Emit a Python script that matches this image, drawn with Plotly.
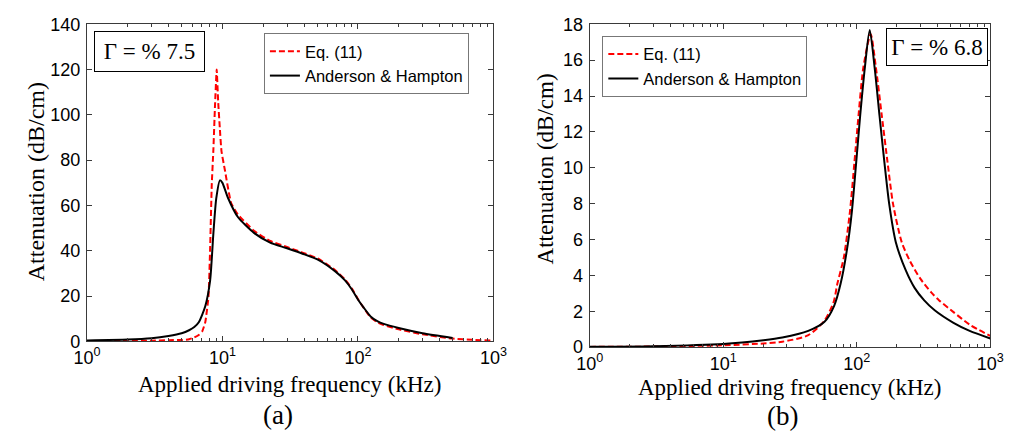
import plotly.graph_objects as go

# ---------------- data ----------------
# Panel (a)
a_red_f = [1, 2, 3, 4, 5, 5.67, 6.2, 6.69, 7.1, 7.47, 7.89, 8.11, 8.34, 8.58, 8.8, 9.07, 9.3, 9.57,
           9.84, 10.4, 11.6, 13, 17.1, 22.5, 29.6, 39, 51.4, 67.7, 80, 90, 100, 110, 124, 140, 155,
           200, 300, 500, 700, 1000]
a_red_v = [0.2, 0.2, 0.3, 0.5, 0.6, 0.9, 1.7, 2.8, 4.5, 8.4, 19.7, 40.8, 69, 85, 103, 120, 106, 94,
           84, 76, 61, 56, 48.8, 44.3, 41.8, 39.2, 36.4, 31.5, 27.4, 23.4, 18.7, 14.9, 10.6, 8.3, 7.2,
           5.3, 3.1, 1.2, 0.7, 0.3]
a_blk_f = [1, 2, 3, 4, 5, 5.67, 6.2, 6.69, 7.47, 8.11, 8.58, 9.0, 9.58, 10, 11, 13, 17.1, 22.5,
           29.6, 39, 51.4, 67.7, 80, 90, 100, 110, 124, 140, 155, 200, 300, 500]
a_blk_v = [0.4, 0.8, 1.4, 2.4, 3.6, 4.9, 6.3, 8.4, 15.5, 26.8, 47.9, 63, 71.1, 70, 63.3, 54.9, 47.9,
           43.6, 41.2, 38.7, 35.9, 31.0, 27.0, 23.0, 18.5, 15.0, 11.0, 8.8, 7.7, 5.9, 3.6, 1.5]

# Panel (b)
b_red_f = [1, 3, 10, 20, 27.7, 43, 57, 67, 71.6, 80, 89, 96, 103, 112, 127, 139, 154, 170, 187,
           217, 250, 300, 361, 414, 530, 700, 1000]
b_red_v = [0.01, 0.03, 0.1, 0.2, 0.3, 0.65, 1.45, 2.5, 3.54, 5.0, 7.6, 10.3, 12.9, 15.6, 17.45,
           15.6, 12.9, 10.3, 7.97, 5.85, 4.8, 3.8, 3.05, 2.6, 1.95, 1.25, 0.62]
b_blk_f = [1, 3, 10, 20, 27.7, 43.3, 57.3, 67.7, 75.7, 84.7, 92, 99, 106, 115, 125, 136, 148, 161,
           175, 196, 232, 271, 320, 383, 530, 700, 1000]
b_blk_v = [0.02, 0.05, 0.17, 0.38, 0.53, 0.9, 1.41, 2.3, 3.54, 5.5, 7.6, 10.3, 12.9, 15.6, 17.68,
           15.6, 12.9, 10.3, 7.97, 5.85, 4.3, 3.3, 2.6, 2.05, 1.35, 0.9, 0.48]

series_names = ["Eq. (11)", "Anderson & Hampton"]
x_tickvals = [1, 10, 100, 1000]
x_ticktext = ["10<sup>0</sup>", "10<sup>1</sup>", "10<sup>2</sup>", "10<sup>3</sup>"]
minor_vals = [m * 10 ** e for e in range(3) for m in range(2, 10)]
gamma_texts = ["Γ = % 7.5", "Γ = % 6.8"]
panel_labels = ["(a)", "(b)"]
x_title = "Applied driving frequency (kHz)"
y_title = "Attenuation (dB/cm)"

# ---------------- figure ----------------
W, H = 1016, 443
SANS = "Liberation Sans, Arial, sans-serif"
SERIF = "Liberation Serif, Times New Roman, serif"
AX = "#3a3a3a"

def px_x(p):
    return p / W

def px_y(p):
    return 1 - p / H

fig = go.Figure()

red_line = dict(color="#ff0000", width=2, dash="6px,3px")
blk_line = dict(color="#000000", width=2)

fig.add_trace(go.Scatter(x=a_red_f, y=a_red_v, mode="lines", name=series_names[0], line=red_line,
                         line_shape="spline", line_smoothing=0.4, xaxis="x", yaxis="y", legend="legend"))
fig.add_trace(go.Scatter(x=a_blk_f, y=a_blk_v, mode="lines", name=series_names[1], line=blk_line,
                         line_shape="spline", line_smoothing=0.6, xaxis="x", yaxis="y", legend="legend"))
fig.add_trace(go.Scatter(x=b_red_f, y=b_red_v, mode="lines", name=series_names[0], line=red_line,
                         line_shape="spline", line_smoothing=0.7, xaxis="x2", yaxis="y2", legend="legend2"))
fig.add_trace(go.Scatter(x=b_blk_f, y=b_blk_v, mode="lines", name=series_names[1], line=blk_line,
                         line_shape="spline", line_smoothing=0.7, xaxis="x2", yaxis="y2", legend="legend2"))

def xaxis_cfg(domain, anchor):
    return dict(type="log", range=[0, 3], domain=domain, anchor=anchor,
                tickvals=x_tickvals, ticktext=x_ticktext,
                ticks="inside", ticklen=5, tickcolor=AX, tickwidth=1,
                minor=dict(tickvals=minor_vals, ticks="inside", ticklen=3, tickcolor=AX),
                showline=True, linecolor=AX, linewidth=1, mirror="ticks",
                showgrid=False, zeroline=False,
                tickfont=dict(family=SANS, size=18, color="#000"))

def yaxis_cfg(domain, anchor, rng, dt):
    return dict(range=rng, dtick=dt, domain=domain, anchor=anchor,
                ticks="inside", ticklen=5, tickcolor=AX, tickwidth=1,
                showline=True, linecolor=AX, linewidth=1, mirror="ticks",
                showgrid=False, zeroline=False, ticklabelstandoff=2,
                tickfont=dict(family=SANS, size=18, color="#000"))

fig.update_layout(
    width=W, height=H,
    margin=dict(l=0, r=0, t=0, b=0),
    paper_bgcolor="white", plot_bgcolor="white",
    xaxis=xaxis_cfg([px_x(75), px_x(493)], "y"),
    yaxis=yaxis_cfg([px_y(347), px_y(15)], "x", [0, 140], 20),
    xaxis2=xaxis_cfg([px_x(592), px_x(1004)], "y2"),
    yaxis2=yaxis_cfg([px_y(353), px_y(15)], "x2", [0, 18], 2),
    legend=dict(x=px_x(257), y=px_y(24), xanchor="left", yanchor="top",
                bordercolor="#777", borderwidth=1, bgcolor="white",
                font=dict(family=SANS, size=16.5, color="#000"), tracegroupgap=0),
    legend2=dict(x=px_x(605), y=px_y(27), xanchor="left", yanchor="top",
                 bordercolor="#777", borderwidth=1, bgcolor="white",
                 font=dict(family=SANS, size=16.5, color="#000"), tracegroupgap=0),
    showlegend=True,
)

ann = []
# Gamma boxes
ann.append(dict(text=gamma_texts[0], x=px_x(139.5), y=px_y(43.5), xref="paper", yref="paper",
                showarrow=False, xanchor="center", yanchor="middle",
                font=dict(family=SERIF, size=23, color="#000"),
                bordercolor="#000", borderwidth=1, borderpad=1, bgcolor="white", width=107, height=37))
ann.append(dict(text=gamma_texts[1], x=px_x(949), y=px_y(39), xref="paper", yref="paper",
                showarrow=False, xanchor="center", yanchor="middle",
                font=dict(family=SERIF, size=23, color="#000"),
                bordercolor="#000", borderwidth=1, borderpad=1, bgcolor="white", width=98, height=34))
# axis titles
for cx, cy in [(283, 392), (797, 395)]:
    ann.append(dict(text=x_title, x=px_x(cx), y=px_y(cy), xref="paper", yref="paper",
                    showarrow=False, xanchor="center", yanchor="middle",
                    font=dict(family=SERIF, size=23, color="#000")))
for cx, cy, sz in [(22, 180, 24), (547, 166, 23)]:
    ann.append(dict(text=y_title, x=px_x(cx), y=px_y(cy), xref="paper", yref="paper",
                    showarrow=False, xanchor="center", yanchor="middle", textangle=-90,
                    font=dict(family=SERIF, size=sz, color="#000")))
# panel labels
for lab, cx, cy in [(panel_labels[0], 271, 424), (panel_labels[1], 790, 425)]:
    ann.append(dict(text=lab, x=px_x(cx), y=px_y(cy), xref="paper", yref="paper",
                    showarrow=False, xanchor="center", yanchor="middle",
                    font=dict(family=SERIF, size=27, color="#000")))
fig.update_layout(annotations=ann)

fig.write_html("out.html")
